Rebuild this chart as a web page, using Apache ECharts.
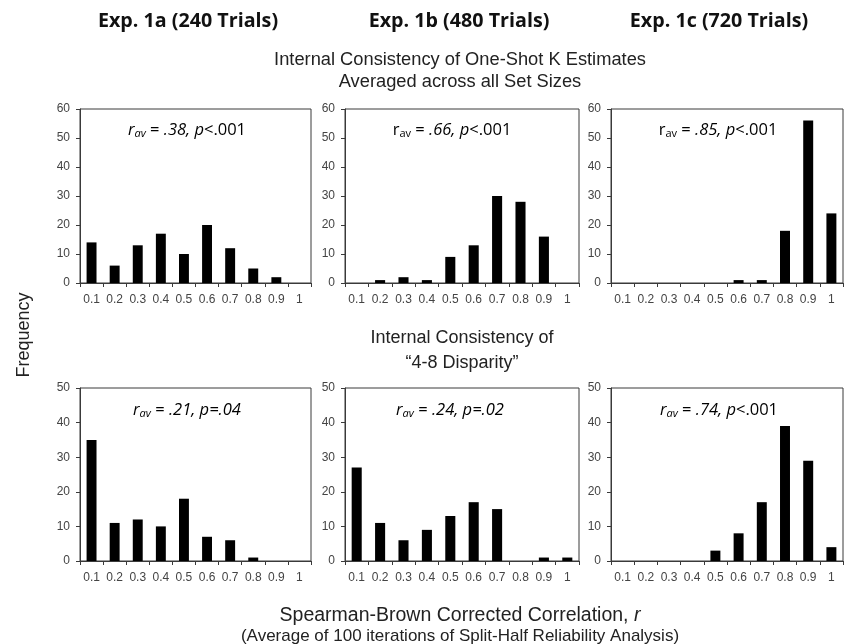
<!DOCTYPE html>
<html>
<head>
<meta charset="utf-8">
<script src="https://cdn.jsdelivr.net/npm/echarts@6/dist/echarts.min.js"></script>
<style>
  html, body { margin: 0; padding: 0; background: #fff; }
  #chart { width: 848px; height: 644px; }
</style>
</head>
<body>
<div id="chart"></div>
<script>
// Bin labels for the split-half correlation histograms
const bins = ['0.1', '0.2', '0.3', '0.4', '0.5', '0.6', '0.7', '0.8', '0.9', '1'];

// One-shot K estimates, averaged across set sizes
const kEstimates1a = [14, 6, 13, 17, 10, 20, 12, 5, 2, 0];
const kEstimates1b = [0, 1, 2, 1, 9, 13, 30, 28, 16, 0];
const kEstimates1c = [0, 0, 0, 0, 0, 1, 1, 18, 56, 24];

// 4-8 disparity
const disparity1a = [35, 11, 12, 10, 18, 7, 6, 1, 0, 0];
const disparity1b = [27, 11, 6, 9, 13, 17, 15, 0, 1, 1];
const disparity1c = [0, 0, 0, 0, 3, 8, 17, 39, 29, 4];

const columnTitles = ['Exp. 1a (240 Trials)', 'Exp. 1b (480 Trials)', 'Exp. 1c (720 Trials)'];

// Reliability summaries shown inside each panel
const topStats = [
  { r: '.38', p: '<.001' },
  { r: '.66', p: '<.001' },
  { r: '.85', p: '<.001' }
];
const bottomStats = [
  { r: '.21', p: '=.04' },
  { r: '.24', p: '=.02' },
  { r: '.74', p: '<.001' }
];

const topMax = 60, bottomMax = 50;

const panels = [
  { data: kEstimates1a, max: topMax, left: 80, width: 231, top: 109, height: 174 },
  { data: kEstimates1b, max: topMax, left: 345, width: 234, top: 109, height: 174 },
  { data: kEstimates1c, max: topMax, left: 611, width: 232, top: 109, height: 174 },
  { data: disparity1a, max: bottomMax, left: 80, width: 231, top: 388, height: 173 },
  { data: disparity1b, max: bottomMax, left: 345, width: 234, top: 388, height: 173 },
  { data: disparity1c, max: bottomMax, left: 611, width: 232, top: 388, height: 173 }
];

const chart = echarts.init(document.getElementById('chart'), null, { renderer: 'canvas' });

const ff = 'Liberation Sans, Arial';
const axisColor = '#3a3a3a';

const grids = [], xAxes = [], yAxes = [], series = [];
panels.forEach((p, i) => {
  grids.push({
    left: p.left, top: p.top, width: p.width, height: p.height,
    show: true, borderColor: axisColor, borderWidth: 1, backgroundColor: 'transparent'
  });
  xAxes.push({
    type: 'category', gridIndex: i, data: bins, boundaryGap: true,
    axisLine: { lineStyle: { color: axisColor, width: 1 } },
    axisTick: { show: true, length: 4, interval: 0, lineStyle: { color: axisColor } },
    axisLabel: { interval: 0, color: '#444', fontFamily: ff, fontSize: 12, margin: 11 }
  });
  yAxes.push({
    type: 'value', gridIndex: i, min: 0, max: p.max, interval: 10,
    splitLine: { show: false },
    axisLine: { show: true, lineStyle: { color: axisColor, width: 1 } },
    axisTick: { show: true, length: 4, lineStyle: { color: axisColor } },
    axisLabel: { color: '#444', fontFamily: ff, fontSize: 12, margin: 10 }
  });
  series.push({
    type: 'bar', xAxisIndex: i, yAxisIndex: i, data: p.data,
    barWidth: '43%', itemStyle: { color: '#000' }, silent: true
  });
});

const statFont = 'Open Sans';
const statSize = 16.5;
const base = { fontFamily: statFont, fontWeight: 'normal', color: '#000', lineHeight: 22 };
const rich = {
  ri: Object.assign({}, base, { fontStyle: 'italic', fontSize: statSize }),
  ru: Object.assign({}, base, { fontSize: statSize }),
  si: Object.assign({}, base, { fontStyle: 'italic', fontSize: 11, padding: [8, 0, 0, 0] }),
  su: Object.assign({}, base, { fontSize: 11, padding: [8, 0, 0, 0] }),
  ti: Object.assign({}, base, { fontStyle: 'italic', fontSize: statSize }),
  tu: Object.assign({}, base, { fontSize: statSize })
};

const titles = [];
const centers = [188, 459, 719];
columnTitles.forEach((t, i) => {
  titles.push({
    text: t, left: centers[i], top: 8, textAlign: 'center', padding: 0,
    textStyle: { fontFamily: 'Open Sans', fontWeight: 'bold', fontSize: 19.7, lineHeight: 26, color: '#111' }
  });
});
titles.push({
  text: 'Internal Consistency of One-Shot K Estimates\nAveraged across all Set Sizes',
  left: 460, top: 49, textAlign: 'center', padding: 0,
  textStyle: { fontFamily: ff, fontWeight: 'normal', fontSize: 18.3, lineHeight: 22, color: '#222' }
});
titles.push({
  text: 'Internal Consistency of\n\u201C4-8 Disparity\u201D',
  left: 462, top: 326, textAlign: 'center', padding: 0,
  textStyle: { fontFamily: ff, fontWeight: 'normal', fontSize: 18, lineHeight: 25, color: '#222' }
});
titles.push({
  text: 'Spearman-Brown Corrected Correlation, {i|r}',
  left: 460, top: 605, textAlign: 'center', padding: 0,
  textStyle: {
    fontFamily: ff, fontWeight: 'normal', fontSize: 19.5, lineHeight: 22, color: '#222',
    rich: { i: { fontFamily: ff, fontWeight: 'normal', fontStyle: 'italic', fontSize: 19.5, lineHeight: 22, color: '#222' } }
  }
});
titles.push({
  text: '(Average of 100 iterations of Split-Half Reliability Analysis)',
  left: 460, top: 626, textAlign: 'center', padding: 0,
  textStyle: { fontFamily: ff, fontWeight: 'normal', fontSize: 17, lineHeight: 20, color: '#222' }
});

// Panel statistics
const statCenters = [187, 452, 718];
topStats.forEach((s, i) => {
  const rStyle = i === 0 ? 'ri' : 'ru';
  const subStyle = i === 0 ? 'si' : 'su';
  titles.push({
    text: `{${rStyle}|r}{${subStyle}|av}{tu| = }{ti|${s.r}, p}{tu|${s.p}}`,
    left: statCenters[i], top: 119, textAlign: 'center', padding: 0,
    textStyle: { rich }
  });
});
const bottomCenters = [187, 450, 719];
bottomStats.forEach((s, i) => {
  const pPart = s.p.startsWith('<') ? `{ti|, p}{tu|${s.p}}` : `{ti|, p${s.p}}`;
  titles.push({
    text: `{ri|r}{si|av}{tu| = }{ti|${s.r}}${pPart}`,
    left: bottomCenters[i], top: 399, textAlign: 'center', padding: 0,
    textStyle: { rich }
  });
});

chart.setOption({
  animation: false,
  backgroundColor: '#fff',
  title: titles,
  grid: grids,
  xAxis: xAxes,
  yAxis: yAxes,
  series: series,
  graphic: [{
    type: 'text', x: 24, y: 335, rotation: Math.PI / 2,
    style: { text: 'Frequency', fontFamily: ff, fontSize: 18, fill: '#222', align: 'center', verticalAlign: 'middle' }
  }]
});
</script>
</body>
</html>
